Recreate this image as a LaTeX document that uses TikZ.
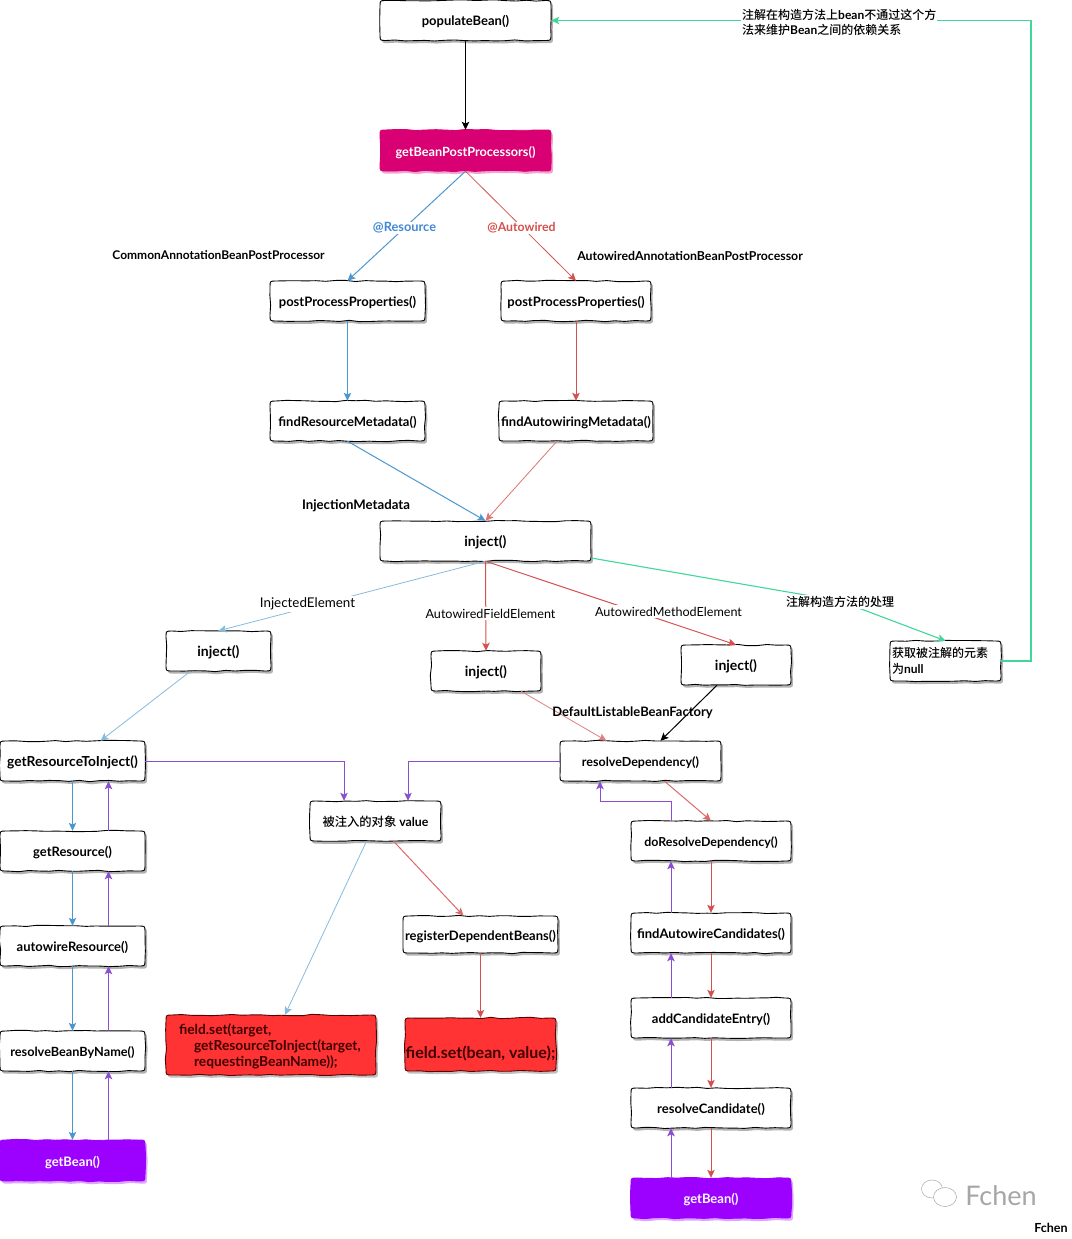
\documentclass[tikz,border=0pt]{standalone}
\usepackage{fontspec}
\setmainfont{Lato}
\newfontfamily\cjk{Noto Sans CJK SC Medium}[BoldFont={Noto Sans CJK SC Medium}]
\usetikzlibrary{arrows.meta,decorations.pathmorphing,shapes.geometric}
\definecolor{cblue}{HTML}{4A97CF}
\definecolor{clblue}{HTML}{86BBDD}
\definecolor{cred}{HTML}{D4504F}
\definecolor{clred}{HTML}{DC8080}
\definecolor{cpurple}{HTML}{8A4FD0}
\definecolor{cgreen}{HTML}{3FD79A}
\definecolor{cmag}{HTML}{D80073}
\definecolor{cvio}{HTML}{9C00FF}
\definecolor{cfire}{HTML}{FF3333}
\pgfmathsetseed{11}
\tikzset{
  x=1pt,y=-1pt,
  wob/.style={decoration={random steps,segment length=10pt,amplitude=0.7pt},line width=0.9pt,line join=round},
  shad/.style 2 args={preaction={fill=#1,opacity=#2,draw=none,transform canvas={shift={(2pt,-2.6pt)}}}},
  plain body/.style={wob,shad={black}{0.3},fill=white,draw=black},
  mag body/.style={wob,shad={cmag}{0.35},fill=cmag,draw=cmag},
  vio body/.style={wob,shad={cvio}{0.35},fill=cvio,draw=cvio},
  fire body/.style={wob,shad={black}{0.25},fill=cfire,draw=black!65!red},
  fs/.style={font=\fontsize{#1}{15}\selectfont\bfseries},
  boxtext/.style={inner sep=0pt,align=center,fs=13,text height=11pt,text depth=0pt},
  plain text/.style={text=black},
  mag text/.style={text=white},
  vio text/.style={text=white},
  fire text/.style={text=black!75!red},
  multi/.style={text height=,text depth=},
  lab/.style={fs=12,inner sep=1pt,text=black},
  thinlab/.style={font=\fontsize{12.6}{14}\selectfont,inner sep=1.5pt,fill=white,text=black},
  tip/.style={-{Stealth[length=8pt,width=7.5pt,inset=1.8pt]}},
  kline/.style={tip,draw=black,line width=1pt},
  bline/.style={tip,draw=cblue,line width=1pt},
  lbline/.style={tip,draw=clblue,line width=0.8pt},
  rline/.style={tip,draw=cred,line width=1pt},
  lrline/.style={tip,draw=clred,line width=0.8pt},
  pline/.style={tip,draw=cpurple,line width=1pt},
  gline/.style={tip,draw=cgreen,line width=1.1pt},
}
% look, node options, name, cx, cy, w, h, text
\newcommand\wbox[8]{%
  \pgfmathsetmacro\xa{#4-#6/2}\pgfmathsetmacro\xb{#4+#6/2}%
  \pgfmathsetmacro\ya{#5-#7/2}\pgfmathsetmacro\yb{#5+#7/2}%
  \pgfmathsetmacro\xc{\xa+6}\pgfmathsetmacro\xd{\xb-6}%
  \pgfmathsetmacro\yc{\ya+6}\pgfmathsetmacro\yd{\yb-6}%
  \path[#1 body] (\xc,\ya) decorate{-- (\xd,\ya)} .. controls (\xb,\ya) .. (\xb,\yc)
    decorate{-- (\xb,\yd)} .. controls (\xb,\yb) .. (\xd,\yb)
    decorate{-- (\xc,\yb)} .. controls (\xa,\yb) .. (\xa,\yd)
    decorate{-- (\xa,\yc)} .. controls (\xa,\ya) .. cycle;
  \node[boxtext,#1 text,#2,minimum width=#6pt,minimum height=#7pt] (#3) at (#4,#5) {#8};
}
\begin{document}
\begin{tikzpicture}
\useasboundingbox (0,0) rectangle (1071,1239);
% boxes
\wbox{plain}{}{populate}{465.5}{20.5}{171}{40}{populateBean()}
\wbox{mag}{fs=12.7}{bpp}{465.5}{150.5}{171}{41}{getBeanPostProcessors()}
\wbox{plain}{}{pp1}{347.5}{301}{155}{40}{postProcessProperties()}
\wbox{plain}{}{pp2}{576}{301}{150}{40}{postProcessProperties()}
\wbox{plain}{}{frm}{347.5}{421}{155}{40}{findResourceMetadata()}
\wbox{plain}{}{fam}{576}{421}{154}{40}{findAutowiringMetadata()}
\wbox{plain}{fs=14}{inj}{485.5}{541}{211}{40}{inject()}
\wbox{plain}{fs=14}{injl}{218.5}{651}{105}{40}{inject()}
\wbox{plain}{fs=14}{injm}{486}{671}{110}{40}{inject()}
\wbox{plain}{fs=14}{injr}{736}{665}{110}{40}{inject()}
\wbox{plain}{multi,fs=12,align=left,text width=107pt}{nul}{945.5}{661}{111}{40}{{\cjk 获取被注解的元素}\\[1pt]{\cjk 为}null}
\wbox{plain}{fs=13.8}{grti}{72.5}{761}{145}{40}{getResourceToInject()}
\wbox{plain}{fs=12.5}{rdep}{640.5}{761}{161}{40}{resolveDependency()}
\wbox{plain}{}{gres}{72.5}{851}{145}{40}{getResource()}
\wbox{plain}{fs=12.3}{val}{375.5}{821}{131}{40}{{\cjk 被注入的对象} value}
\wbox{plain}{fs=12.4}{drd}{711}{841}{160}{40}{doResolveDependency()}
\wbox{plain}{}{ares}{72.5}{946}{145}{40}{autowireResource()}
\wbox{plain}{}{rdb}{480.5}{934.5}{155}{37}{registerDependentBeans()}
\wbox{plain}{}{fac}{711}{933}{160}{40}{findAutowireCandidates()}
\wbox{plain}{}{ace}{711}{1018}{160}{40}{addCandidateEntry()}
\wbox{plain}{fs=12.7}{rbn}{72.5}{1051}{145}{40}{resolveBeanByName()}
\wbox{fire}{multi,fs=13.8,align=left,text width=184pt}{fs1}{271}{1045}{210}{60}{\rule{0pt}{14pt}field.set(target,\\[1pt]\hspace*{15pt}getResourceToInject(target,\\[1pt]\hspace*{15pt}requestingBeanName));}
\wbox{fire}{fs=16,text height=27pt}{fs2}{480.5}{1044.5}{151}{53}{field.set(bean, value);}
\wbox{vio}{}{gb1}{72.5}{1160.5}{145}{41}{getBean()}
\wbox{plain}{}{rc}{711}{1108}{160}{40}{resolveCandidate()}
\wbox{vio}{}{gb2}{711}{1198}{160}{40}{getBean()}
% way points
\coordinate (gkink) at (840,601);
\coordinate (gturn1) at (1031,661);
\coordinate (gturn2) at (1031,20.5);
\coordinate (pa1) at (344,761);
\coordinate (pa2) at (408,761);
\coordinate (pa3) at (671,801);
\coordinate (pa4) at (600,801);
% connectors
\draw[kline] (populate.south) -- (bpp.north);
\draw[bline] (bpp.south) -- (pp1.north);
\draw[rline,line width=.8pt] (bpp.south) -- (pp2.north);
\draw[bline] (pp1.south) -- (frm.north);
\draw[rline] (pp2.south) -- (pp2.south |- fam.north);
\draw[bline] (frm.south) -- (inj.north);
\draw[lrline,draw=cred!80] ([xshift=-19pt]fam.south) -- (inj.north);
\draw[lbline] (inj.south) -- (injl.north);
\draw[rline] (inj.south) -- (injm.north);
\draw[rline] (inj.south) -- (injr.north);
\draw[gline] ([yshift=-17pt]inj.east) -- (gkink) -- (nul.north);
\draw[gline] (nul.east) -- (gturn1) -- (gturn2) -- (populate.east);
\draw[lbline] ([xshift=-28pt]injl.south) -- ([xshift=28pt]grti.north);
\draw[lrline] ([xshift=35pt]injm.south) -- ([xshift=-34pt]rdep.north);
\draw[pline] (grti.east) -- (pa1) -- (pa1 |- val.north);
\draw[pline] (rdep.west) -- (pa2) -- (pa2 |- val.north);
\draw[rline,draw=cred!85] ([xshift=24pt]rdep.south) -- (drd.north);
\draw[pline] ([xshift=-40pt]drd.north) -- (pa3) -- (pa4) -- (pa4 |- rdep.south);
\draw[lbline] ([xshift=-9pt]val.south) -- ([xshift=14pt]fs1.north);
\draw[rline,draw=cred!85] ([xshift=18pt]val.south) -- ([xshift=-17pt]rdb.north);
\draw[rline] (rdb.south) -- (fs2.north);
% left column
\draw[bline] (grti.south) -- (gres.north);
\draw[bline] (gres.south) -- (ares.north);
\draw[bline] (ares.south) -- (rbn.north);
\draw[bline] (rbn.south) -- (gb1.north);
\draw[pline] ([xshift=36pt]gres.north) -- ([xshift=36pt]grti.south);
\draw[pline] ([xshift=36pt]ares.north) -- ([xshift=36pt]gres.south);
\draw[pline] ([xshift=36pt]rbn.north) -- ([xshift=36pt]ares.south);
\draw[pline] ([xshift=36pt]gb1.north) -- ([xshift=36pt]rbn.south);
% right column
\draw[rline] (drd.south) -- (fac.north);
\draw[rline] (fac.south) -- (ace.north);
\draw[rline] (ace.south) -- (rc.north);
\draw[rline] (rc.south) -- (gb2.north);
\draw[pline] ([xshift=-40pt]fac.north) -- ([xshift=-40pt]drd.south);
\draw[pline] ([xshift=-40pt]ace.north) -- ([xshift=-40pt]fac.south);
\draw[pline] ([xshift=-40pt]rc.north) -- ([xshift=-40pt]ace.south);
\draw[pline] ([xshift=-40pt]gb2.north) -- ([xshift=-40pt]rc.south);
% labels
\node[lab,fs=12.8,fill=white,text=cblue!90!blue] (lres) at (404.5,228) {@Resource};
\node[lab,fs=12.3,fill=white,text=cred] (laut) at (521.5,228) {@Autowired};
\node[lab] (lcommon) at (218.5,255.5) {CommonAnnotationBeanPostProcessor};
\node[lab,fs=12.3] (lautop) at (690,255.5) {AutowiredAnnotationBeanPostProcessor};
\node[lab,fs=13.2] (lmeta) at (356,506) {InjectionMetadata};
\node[thinlab,font=\fontsize{13.4}{14}\selectfont] (lie) at (307.5,604) {InjectedElement};
\node[thinlab] (lafe) at (490.5,613.5) {AutowiredFieldElement};
\node[thinlab] (lame) at (668.5,611.5) {AutowiredMethodElement};
\node[lab,fill=white,font=\fontsize{12}{14}\selectfont\cjk] (lctor) at (840,602) {注解构造方法的处理};
\node[lab,fill=white,align=left,font=\fontsize{12}{15}\selectfont,anchor=west] (ltop) at (741,22.5) {{\cjk 注解在构造方法上}\textbf{bean}{\cjk 不通过这个方}\\{\cjk 法来维护}\textbf{Bean}{\cjk 之间的依赖关系}};
\node[lab,fs=13] (ldlbf) at (632.5,713) {DefaultListableBeanFactory};
\draw[kline] ([xshift=-19pt]injr.south) -- ([xshift=20pt]rdep.north);
% watermark
\node[draw=black!35,line width=0.5pt,ellipse,minimum width=21pt,minimum height=18pt,inner sep=0pt] (wm1) at (932,1189) {};
\node[draw=black!35,fill=white,line width=0.5pt,ellipse,minimum width=23pt,minimum height=19pt,inner sep=0pt] (wm2) at (945,1197) {};
\node[font=\fontsize{27}{30}\selectfont,text=black!35,inner sep=0pt] (wmt) at (1001,1196) {Fchen};
\node[lab,fs=12.5] (fchen) at (1051,1228) {Fchen};
\end{tikzpicture}
\end{document}
